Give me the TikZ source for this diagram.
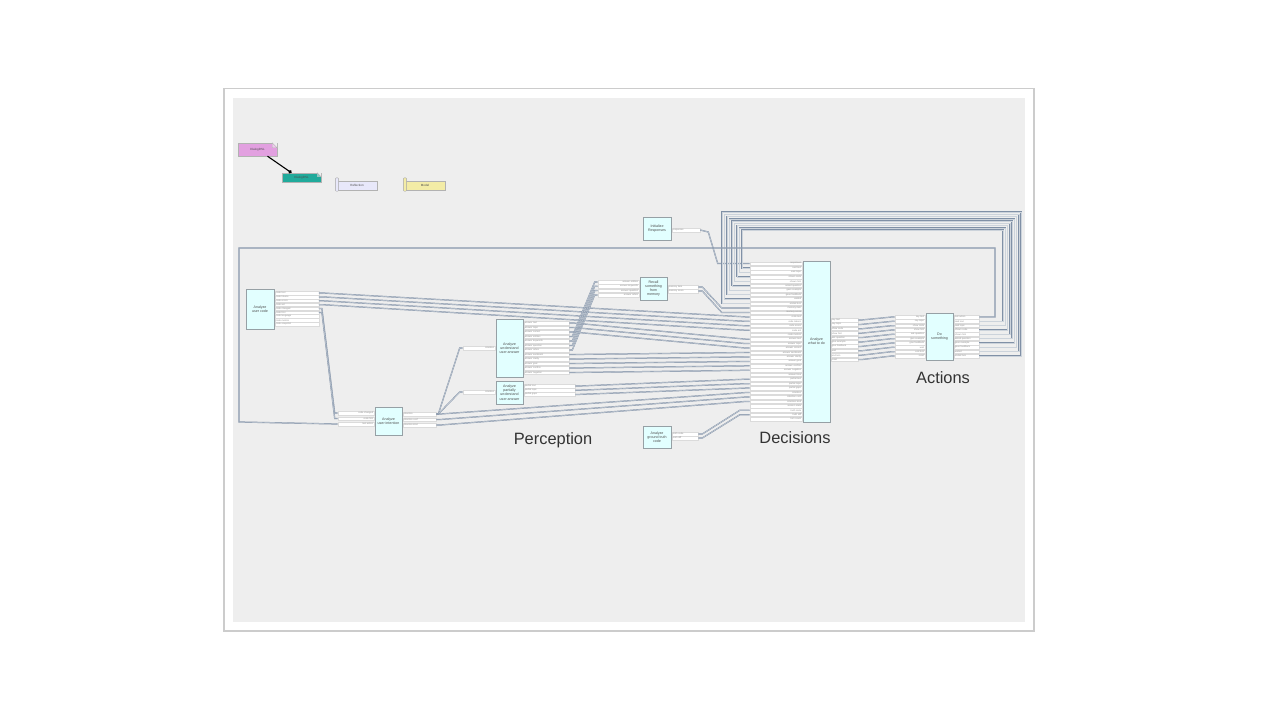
\documentclass[tikz,border=0pt]{standalone}
\usepackage{fontspec}
\setmainfont{Liberation Sans}
\usetikzlibrary{arrows.meta, calc}

\definecolor{cardgrey}{RGB}{238,238,238}
\definecolor{wirecol}{RGB}{128,144,166}
\definecolor{modfill}{RGB}{226,255,255}
\definecolor{modborder}{RGB}{150,160,165}
\definecolor{notepink}{RGB}{226,160,224}
\definecolor{noteteal}{RGB}{32,170,155}
\definecolor{reflfill}{RGB}{232,232,250}
\definecolor{modelfill}{RGB}{243,236,166}

\tikzset{
	module/.style={draw=modborder, fill=modfill, line width=0.7pt, inner sep=0.5pt, align=center, font=\fontsize{3.6}{4.2}\selectfont, text=black!70},
	port/.style={draw=black!14, fill=white, line width=0.3pt, inner xsep=0.8pt, inner ysep=0.2pt, minimum height=3.6pt, font=\fontsize{2.3}{2.6}\selectfont, text=black!45},
	inport/.style={port, anchor=east, text width=#1pt, align=right},
	outport/.style={port, anchor=west, text width=#1pt, align=left},
	wire/.style={draw=wirecol, double=wirecol!40!white, double distance=0.45pt, line width=0.4pt},
	grouplabel/.style={font=\fontsize{16.4}{19}\selectfont, text=black!80},
	legend/.style={draw=black!30, line width=0.4pt, inner sep=0pt, font=\fontsize{3}{3.5}\selectfont, text=black!70},
}

\begin{document}
\begin{tikzpicture}[x=1pt, y=-1pt]
	\useasboundingbox (0,0) rectangle (1280,720);
	
	% Card with shadow
	\fill[black!20] (223,88) rectangle (1035,632);
	\fill[white] (225,89) rectangle (1033,630);
	\fill[cardgrey] (233,98) rectangle (1025,622);
	
	% Legend
	\node[legend, fill=notepink, minimum width=39pt, minimum height=13pt] (dsl) at (257.5,149.5) {DialogDSL};
	\fill[cardgrey] (dsl.north east) -- ++(-5,0) -- ++(5,5) -- cycle;
	\filldraw[draw=black!30, fill=notepink!55!white, line width=0.3pt] ($(dsl.north east)+(-5,0)$) -- ++(0,5) -- ++(5,0) -- cycle;
	\node[legend, fill=noteteal, minimum width=39pt, minimum height=9pt] (dslb) at (301.5,177.5) {DialogDSL};
	\fill[cardgrey] (dslb.north east) -- ++(-4,0) -- ++(4,4) -- cycle;
	\filldraw[draw=black!30, fill=noteteal!55!white, line width=0.3pt] ($(dslb.north east)+(-4,0)$) -- ++(0,4) -- ++(4,0) -- cycle;
	\draw[black, line width=1.1pt, -{Circle[length=3.5pt]}] ([xshift=10pt]dsl.south) -- ([xshift=-10pt]dslb.north);
	\node[legend, fill=reflfill, minimum width=40pt, minimum height=9pt] (refl) at (357,185.5) {Reflection};
	\filldraw[draw=black!35, fill=reflfill, line width=0.4pt, rounded corners=1pt] ($(refl.north west)+(-1.5,-3)$) rectangle ($(refl.south west)+(1.8,1)$);
	\node[legend, fill=modelfill, minimum width=40pt, minimum height=9pt] (model) at (425,185.5) {Model};
	\filldraw[draw=black!35, fill=modelfill, line width=0.4pt, rounded corners=1pt] ($(model.north west)+(-1.5,-3)$) rectangle ($(model.south west)+(1.8,1)$);
	
	% Perception modules
	\node[module, minimum width=28pt, minimum height=40pt] (uc) at (260,309) {Analyze\\user code};
	\foreach \n [count=\i] in {code text, code tokens, code errors, code ast, code changed, code hint, code language, code metrics, code snapshot}
		\node[outport=42] (uc-o\i) at (275,{289.1+3.9*\i}) {\n};
	
	\node[module, minimum width=27pt, minimum height=28pt] (ui) at (388.5,421) {Analyze\\user intention};
	\foreach \n [count=\i] in {code changed, code hint, last action}
		\node[inport=34.4] (ui-i\i) at (374,{407.5+5.5*\i}) {\n};
	\foreach \n [count=\i] in {intention, intention conf, intention kind}
		\node[outport=31.4] (ui-o\i) at (403,{408.5+5.5*\i}) {\n};
	
	\node[module, minimum width=27pt, minimum height=58pt] (und) at (509.5,348) {Analyze\\understand\\user answer};
	\node[inport=30.4] (und-i1) at (495,348) {intention};
	\foreach \n [count=\i] in {answer text, answer topic, answer correct, answer entities, answer keywords, answer question, answer refers, answer sentiment, answer clarity, answer goal, answer confirm, answer negation}
		\node[outport=43.4] (und-o\i) at (524,{318.5+4.5*\i}) {\n};
	
	\node[module, minimum width=27pt, minimum height=23pt] (part) at (509.5,392.5) {Analyze\\partially\\understand\\user answer};
	\node[inport=30.4] (part-i1) at (495,392) {intention};
	\foreach \n [count=\i] in {partial text, partial topic, partial gaps}
		\node[outport=49.4] (part-o\i) at (524,{381.8+4.2*\i}) {\n};
	
	\node[module, minimum width=27pt, minimum height=23pt] (rec) at (653.5,288.5) {Recall\\something\\from\\memory};
	\foreach \n [count=\i] in {answer entities, answer keywords, answer question, answer refers}
		\node[inport=39.4] (rec-i\i) at (639,{277.7+4.3*\i}) {\n};
	\foreach \n [count=\i] in {memory item, memory score}
		\node[outport=28.4] (rec-o\i) at (668,{283+4*\i}) {\n};
	
	\node[module, minimum width=28pt, minimum height=23pt] (init) at (657,228.5) {Initialize\\Responses};
	\node[outport=26.4] (init-o1) at (672,230) {responses};
	
	\node[module, minimum width=28pt, minimum height=22pt] (gt) at (657,437) {Analyze\\ground truth\\code};
	\foreach \n [count=\i] in {truth code, truth diff}
		\node[outport=24.4] (gt-o\i) at (672,{430+4*\i}) {\n};
	
	% Decision module
	\node[module, minimum width=27pt, minimum height=161pt] (wtd) at (816.5,341.5) {Analyze\\what to do};
	\foreach \n [count=\i] in {responses, said text, said topic, shown code, shown hint, asked question, gave example, gave feedback, waited, ended turn, memory item, memory score, code text, code tokens, code errors, code ast, code metrics, answer text, answer topic, answer correct, answer sentiment, answer clarity, answer goal, answer confirm, answer negation, answer time, partial text, partial topic, partial gaps, intention, intention conf, intention kind, session state, truth code, truth diff, turn count}
		\node[inport=50.4] (wtd-i\i) at (802,{259.05+4.45*\i}) {\n};
	\foreach \n [count=\i] in {say text, say topic, show code, show hint, ask question, give example, give feedback, wait, end turn, reset}
		\node[outport=25.4] (wtd-o\i) at (831,{315.6+4.4*\i}) {\n};
	
	% Action module
	\node[module, minimum width=27pt, minimum height=47pt] (do) at (939.5,336.5) {Do\\something};
	\foreach \n [count=\i] in {say text, say topic, show code, show hint, ask question, give example, give feedback, wait, end turn, reset}
		\node[inport=28.4] (do-i\i) at (925,{312.7+4.33*\i}) {\n};
	\foreach \n [count=\i] in {last action, said text, said topic, shown code, shown hint, asked question, gave example, gave feedback, waited, ended turn}
		\node[outport=23.4] (do-o\i) at (954,{312.7+4.33*\i}) {\n};
	
	% Initial responses
	\draw[wire] (init-o1.east) -- ++(8,2) -- ($(wtd-i1.west)+(-32,0)$) -- (wtd-i1.west);
	
	% Feedback loops from actions
	\foreach \k in {1,...,9} {
		\pgfmathtruncatemacro{\j}{\k+1}
		\pgfmathsetmacro{\xr}{1003+(\k-1)*2.25}
		\pgfmathsetmacro{\yt}{230-(\k-1)*2.25}
		\pgfmathsetmacro{\xl}{742-(\k-1)*2.5}
		\draw[wire] (do-o\j.east) -| (\xr,\yt) -- (\xl,\yt) |- (wtd-i\j.west);
	}
	
	% Last action back to intention
	\draw[wire] (do-o1.east) -| (995,248) -- (239,248) -- (239,422) -- (ui-i3.west);
	
	% Memory
	\foreach \a/\b in {1/11, 2/12}
		\draw[wire] (rec-o\a.east) -- ++(4,0) -- ($(wtd-i\b.west)+(-28,0)$) -- (wtd-i\b.west);
	
	% User code
	\foreach \a/\b in {1/13, 2/14, 3/15, 4/16}
		\draw[wire] (uc-o\a.east) -- ++(4,0) -- ($(wtd-i\b.west)+(-4,0)$) -- (wtd-i\b.west);
	\foreach \a/\b in {5/1, 6/2}
		\draw[wire] (uc-o\a.east) -- ++(3,0) -- ($(ui-i\b.west)+(-3,0)$) -- (ui-i\b.west);
	
	% Intention
	\draw[wire] (ui-o1.east) -- ++(2,0) -- ($(und-i1.west)+(-3,0)$) -- (und-i1.west);
	\draw[wire] (ui-o1.east) -- ++(2,0) -- ($(part-i1.west)+(-3,0)$) -- (part-i1.west);
	\foreach \a/\b in {1/30, 2/31, 3/32}
		\draw[wire] (ui-o\a.east) -- ++(4,0) -- ($(wtd-i\b.west)+(-4,0)$) -- (wtd-i\b.west);
	
	% Understanding
	\foreach \a/\b in {4/1, 5/2, 6/3, 7/4}
		\draw[wire] (und-o\a.east) -- ++(3,0) -- ($(rec-i\b.west)+(-3,0)$) -- (rec-i\b.west);
	\foreach \a/\b in {1/18, 2/19, 3/20, 8/21, 9/22, 10/23, 11/24, 12/25}
		\draw[wire] (und-o\a.east) -- ++(4,0) -- ($(wtd-i\b.west)+(-4,0)$) -- (wtd-i\b.west);
	\foreach \a/\b in {1/27, 2/28, 3/29}
		\draw[wire] (part-o\a.east) -- ++(4,0) -- ($(wtd-i\b.west)+(-4,0)$) -- (wtd-i\b.west);
	\foreach \a/\b in {1/34, 2/35}
		\draw[wire] (gt-o\a.east) -- ++(4,0) -- ($(wtd-i\b.west)+(-10,0)$) -- (wtd-i\b.west);
	
	% Decisions to actions
	\foreach \i in {1,...,10}
		\draw[wire] (wtd-o\i.east) -- ++(3,0) -- ($(do-i\i.west)+(-3,0)$) -- (do-i\i.west);
	
	% Group labels
	\node[grouplabel] (perc) at (553,440) {Perception};
	\node[grouplabel] (dec) at (795,438) {Decisions};
	\node[grouplabel] (act) at (943,378) {Actions};
	
\end{tikzpicture}
\end{document}
